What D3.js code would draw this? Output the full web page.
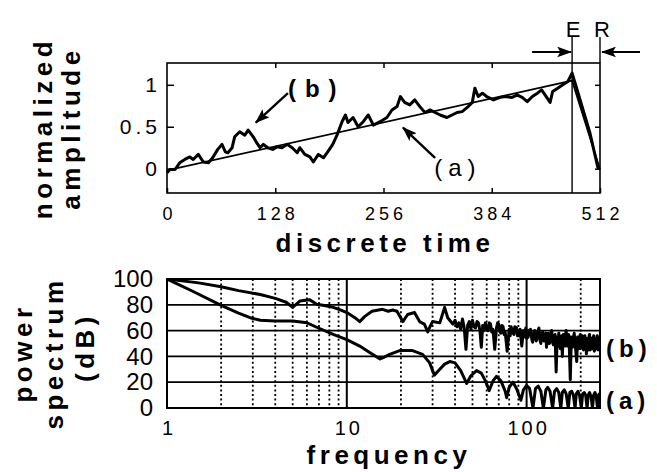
<!DOCTYPE html>
<html>
<head>
<meta charset="utf-8">
<script src="https://cdn.jsdelivr.net/npm/d3@7"></script>
<style>
  body { margin: 0; background: #fff; }
  svg { display: block; font-family: "Liberation Sans", Arial, Helvetica, sans-serif; }
  .title { font-weight: bold; font-size: 26px; letter-spacing: 4.5px; fill: #000; }
  .note { font-size: 24px; fill: #000; }
</style>
</head>
<body>
<div id="vis"></div>
<script>
const timeTicks = [0, 128, 256, 384, 512];
const ampTicks = [0, 0.5, 1];
const freqTicks = [1, 10, 100];
const dbTicks = [0, 20, 40, 60, 80, 100];
const dbGrid = [20, 40, 60, 80];
const minorFreqs = [2, 3, 4, 5, 6, 7, 8, 9, 20, 30, 40, 50, 60, 70, 80, 90, 200];
const decadeFreqs = [10, 100];
const edgeTimes = [479, 512]; // E and R markers

// (a) linear ramp, (b) noisy signal : [time, amplitude]
const rampA = [[0, -0.02], [479, 1.05], [512, -0.01]];
const signalB = [[0,-0.05],[3.5,-0.01],[9.5,-0.01],[15,0.07],[21,0.11],[27,0.14],[31,0.11],[37,0.17],[43,0.08],[49,0.07],
  [54,0.13],[60,0.23],[65,0.29],[69,0.20],[72,0.19],[77,0.25],[80,0.38],[86,0.44],[92,0.40],[96,0.46],
  [102,0.38],[106,0.31],[110,0.25],[114,0.29],[119,0.25],[125,0.23],[130,0.26],[136,0.25],[142,0.29],[148,0.25],
  [154,0.19],[157,0.25],[163,0.17],[169,0.14],[173,0.08],[179,0.17],[185,0.13],[190,0.20],[196,0.29],[201,0.40],
  [207,0.56],[211,0.64],[214,0.55],[220,0.61],[226,0.50],[232,0.56],[238,0.64],[244,0.52],[252,0.56],[260,0.61],
  [266,0.70],[272,0.74],[276,0.86],[281,0.79],[287,0.76],[293,0.82],[299,0.74],[305,0.67],[311,0.70],[317,0.67],
  [323,0.64],[331,0.61],[337,0.64],[343,0.67],[349,0.68],[355,0.73],[361,0.79],[364,0.96],[368,0.86],[373,0.90],
  [378,0.86],[386,0.82],[394,0.85],[400,0.86],[408,0.85],[414,0.88],[420,0.85],[426,0.80],[432,0.86],[438,0.90],
  [443,0.94],[449,0.85],[453,0.79],[456,0.92],[462,0.96],[468,1.00],[474,1.04],[479,1.14],[485,0.94],[492,0.70],
  [500,0.43],[510,-0.01]];

// power spectra : [frequency, dB]
const spectrumA = [[1,100],[1.39,90.5],[2,79.5],[2.5,73.5],[2.9,70],[3.3,68],[4,67.5],[5,67.5],[6,66],[6.8,62.6],
  [8.4,57],[10,53],[11.8,48],[13.4,43],[15.3,38],[16.2,39.5],[17.3,41.6],[19.7,44.5],[23.2,44.5],[26.4,41.6],
  [28.9,35],[30.7,25.5],[32.9,30],[35,34],[37.4,36],[40,35],[43,29],[46.4,19],[49,25],[52.7,29],
  [56,27],[59,21],[62,13.5],[65,21],[68,24.5],[72,21],[76,13],[77.5,8],[80,16],[84,20],
  [88,15],[93,6],[96,14],[100,17.5],[104,15],[108.5,0],[112,15],[116,17],[120,13],[124,0],
  [128,14],[131,16],[135,13],[139.5,0],[143,13],[147,15],[151,12],[155,0],[158,12],[162,14],
  [166,11],[170.5,0],[174,12],[178,13],[182,10],[186,0],[189,11],[193,13],[197,10],[201.5,0],
  [205,11],[209,12],[213,10],[217,0],[220,10],[224,12],[228,9],[232.5,0],[236,10],[240,12],
  [244,9],[248,0],[251,10],[254,11],[256,10]];
const spectrumB = [[1,100],[1.5,97],[2,94],[2.5,91],[3.3,88],[4,85],[4.6,82],[5,78],[5.5,83],[6.2,84],
  [6.8,80.5],[7.5,79.5],[8.4,78],[9.2,76],[10,74],[11.1,70],[11.8,67],[12.6,71],[13.8,75],[15.8,76.5],
  [17,75],[18,76],[19,75],[20.5,67],[21.8,72.5],[23.8,74],[25.4,67],[27,65],[28.2,59],[29,63],
  [30,67],[32.9,66],[35,78],[36.4,70],[38.9,65],[40,68],[41,63],[42,66],[43,61],[44,69],[45,62],[46,45.5],
  [47,64],[48,67],[49,61],[50,68],[51,63],[52,62],[53,67],[54,66],[55,60],[56,47],[57,64],[58,60],[59,66],[60,61],
  [61,60],[62,66],[63,65],[64,59],[65,61],[66.5,45.5],[68,62],[69,66],[70,65],[71,59],[72,58],[73,64],[74,63],
  [75,57],[76,59],[78,44],[80,61],[81,56],[82,63],[84,58],[85,57],[86,63],[88,62],[89,56],[91,56],[92,61],
  [94,48],[96,60],[97,55],[99,62],[100,54],[102,55],[103,60],[105,61],[107,53],[108,51],[110,59],[111,60],
  [113,52],[114,53],[116,60],[117,62],[119,52],[120,50],[122,58],[123,59],[125,52],[126,54],[128,58],[129,47],
  [131,56],[132,58],[134,50],[135,52],[137,59],[138,60],[140,50],[141,49],[143,56],[144,57],
  [146,28],[148,55],[150,48],[151,58],[153,50],[154,46],[156,55],[157,56],[158,40],[160,57],[162,50],[163,48],
  [165,58],[166,60],[168,48],[169,50],[171,57],[172,56],[175,22],[177,50],[178,55],[180,47],[181,48],[183,56],
  [184,58],[186,49],[187,47],[190,36],[192,55],[193,54],[195,46],[196,49],[198,56],[199,57],[201,47],[202,48],
  [204,56],[205,55],[207,45],[208,46],[210,55],[211,56],[213,47],[214,49],[215,42],[217,53],[218,54],[220,45],
  [221,47],[223,56],[224,57],[226,45],[227,46],[229,54],[230,53],[232,46],[233,48],[235,55],[236,56],[238,44],
  [239,45],[241,53],[242,54],[244,46],[245,47],[247,56],[248,55],[250,45],[251,46],[253,53],[254,52],[256,48]];

const width = 657, height = 472;
const plotLeft = 167, plotRight = 600;
const topY0 = 63, topY1 = 193;
const botY0 = 279, botY1 = 408;

const svg = d3.select("div#vis").append("svg").attr("width", width).attr("height", height);
svg.append("rect").attr("width", width).attr("height", height).attr("fill", "#fff");

const defs = svg.append("defs");
defs.append("marker").attr("id", "head")
  .attr("viewBox", "0 0 14 10").attr("refX", 13).attr("refY", 5)
  .attr("markerWidth", 15).attr("markerHeight", 11).attr("markerUnits", "userSpaceOnUse")
  .attr("orient", "auto")
  .append("path").attr("d", "M0,0 L14,5 L0,10 L3,5 Z").attr("fill", "#000");
defs.append("clipPath").attr("id", "clipBot")
  .append("rect").attr("x", plotLeft).attr("y", botY0).attr("width", plotRight - plotLeft).attr("height", botY1 - botY0);

const styleAxis = (g, size, spacing) => {
  g.select(".domain").remove();
  g.selectAll(".tick line").attr("stroke", "#000").attr("stroke-width", 1.5);
  g.selectAll(".tick text").attr("fill", "#000").style("font-size", size + "px").style("letter-spacing", spacing + "px");
};

// ---------- top panel ----------
const tx = d3.scaleLinear().domain([0, 512]).range([plotLeft, plotRight]);
const ty = d3.scaleLinear().domain([-0.29, 1.26]).range([topY1, topY0]);

svg.append("g").attr("transform", `translate(0,${topY1})`)
  .call(d3.axisBottom(tx).tickValues(timeTicks).tickSize(-5).tickPadding(14))
  .call(g => styleAxis(g, 18, 4))
  .call(g => g.selectAll(".tick text").attr("dx", "2px"));
svg.append("g").attr("transform", `translate(0,${topY0})`)
  .call(d3.axisTop(tx).tickValues(timeTicks.slice(1, 4)).tickSize(-5).tickFormat(""))
  .call(g => styleAxis(g, 18, 0));
svg.append("g").attr("transform", `translate(${plotLeft},0)`)
  .call(d3.axisLeft(ty).tickValues(ampTicks).tickSize(-7).tickPadding(6).tickFormat(d3.format("")))
  .call(g => styleAxis(g, 21, 4));
svg.append("g").attr("transform", `translate(${plotRight},0)`)
  .call(d3.axisRight(ty).tickValues(ampTicks).tickSize(-5).tickFormat(""))
  .call(g => styleAxis(g, 18, 0));

svg.append("rect").attr("x", plotLeft).attr("y", topY0)
  .attr("width", plotRight - plotLeft).attr("height", topY1 - topY0)
  .attr("fill", "none").attr("stroke", "#000").attr("stroke-width", 1.6);

// E / R boundaries
const markTop = 37, arrowY = 52;
svg.selectAll("line.edge").data(edgeTimes).enter().append("line")
  .attr("class", "edge")
  .attr("x1", d => tx(d)).attr("x2", d => tx(d))
  .attr("y1", markTop).attr("y2", (d, i) => i === 0 ? topY1 : topY0)
  .attr("stroke", "#000").attr("stroke-width", 1.4);
svg.append("line").attr("x1", tx(edgeTimes[0]) - 40).attr("x2", tx(edgeTimes[0]) - 1)
  .attr("y1", arrowY).attr("y2", arrowY).attr("stroke", "#000").attr("stroke-width", 2).attr("marker-end", "url(#head)");
svg.append("line").attr("x1", tx(edgeTimes[1]) + 40).attr("x2", tx(edgeTimes[1]) + 2)
  .attr("y1", arrowY).attr("y2", arrowY).attr("stroke", "#000").attr("stroke-width", 2).attr("marker-end", "url(#head)");
svg.selectAll("text.edge").data(["E", "R"]).enter().append("text")
  .attr("class", "note edge")
  .attr("x", (d, i) => tx(edgeTimes[i]) + (i === 0 ? 1 : 2))
  .attr("y", markTop)
  .attr("text-anchor", "middle")
  .style("font-size", "22px")
  .text(d => d);

const ampLine = d3.line().x(d => tx(d[0])).y(d => ty(d[1]));
svg.append("path").datum(rampA).attr("d", ampLine)
  .attr("fill", "none").attr("stroke", "#000").attr("stroke-width", 1.8);
svg.append("path").datum(signalB).attr("d", ampLine)
  .attr("fill", "none").attr("stroke", "#000").attr("stroke-width", 3).attr("stroke-linejoin", "round");

// annotations (a), (b)
svg.append("line").attr("x1", tx(143)).attr("y1", ty(0.9)).attr("x2", tx(105)).attr("y2", ty(0.55))
  .attr("stroke", "#000").attr("stroke-width", 2.4).attr("marker-end", "url(#head)");
svg.append("text").attr("class", "note").attr("x", tx(143)).attr("y", ty(0.85))
  .style("letter-spacing", "9px").style("font-weight", "bold").text("(b)");
svg.append("line").attr("x1", tx(317)).attr("y1", ty(0.13)).attr("x2", tx(279)).attr("y2", ty(0.49))
  .attr("stroke", "#000").attr("stroke-width", 2.4).attr("marker-end", "url(#head)");
svg.append("text").attr("class", "note").attr("x", tx(316)).attr("y", ty(-0.09))
  .style("letter-spacing", "6px").text("(a)");

// titles
svg.append("text").attr("class", "title").attr("transform", "translate(52,128) rotate(-90)")
  .attr("text-anchor", "middle").text("normalized");
svg.append("text").attr("class", "title").attr("transform", "translate(80,128) rotate(-90)")
  .attr("text-anchor", "middle").text("amplitude");
svg.append("text").attr("class", "title").attr("x", 385).attr("y", 252)
  .attr("text-anchor", "middle").text("discrete time");

// ---------- bottom panel ----------
const fx = d3.scaleLog().domain([1, 256]).range([plotLeft, plotRight]);
const fy = d3.scaleLinear().domain([0, 100]).range([botY1, botY0]);

svg.selectAll("line.hgrid").data(dbGrid).enter().append("line")
  .attr("class", "hgrid")
  .attr("x1", plotLeft).attr("x2", plotRight)
  .attr("y1", d => fy(d)).attr("y2", d => fy(d))
  .attr("stroke", "#000").attr("stroke-width", 1.7);
svg.selectAll("line.vminor").data(minorFreqs).enter().append("line")
  .attr("class", "vminor")
  .attr("x1", d => fx(d)).attr("x2", d => fx(d))
  .attr("y1", botY0).attr("y2", botY1)
  .attr("stroke", "#000").attr("stroke-width", 1.8).attr("stroke-dasharray", "2,2.6");
svg.selectAll("line.vmajor").data(decadeFreqs).enter().append("line")
  .attr("class", "vmajor")
  .attr("x1", d => fx(d)).attr("x2", d => fx(d))
  .attr("y1", botY0).attr("y2", botY1)
  .attr("stroke", "#000").attr("stroke-width", 2);

svg.append("g").attr("transform", `translate(${plotLeft},0)`)
  .call(d3.axisLeft(fy).tickValues(dbTicks).tickSize(0).tickPadding(14))
  .call(g => styleAxis(g, 24, 0));
svg.append("g").attr("transform", `translate(0,${botY1})`)
  .call(d3.axisBottom(fx).tickValues(freqTicks).tickSize(0).tickPadding(13).tickFormat(d3.format("d")))
  .call(g => styleAxis(g, 20, 3))
  .call(g => g.selectAll(".tick text").attr("dx", "1.5px"));

const dbLine = d3.line().x(d => fx(d[0])).y(d => fy(d[1]));
const curves = svg.append("g").attr("clip-path", "url(#clipBot)");
curves.append("path").datum(spectrumA).attr("d", dbLine)
  .attr("fill", "none").attr("stroke", "#000").attr("stroke-width", 3).attr("stroke-linejoin", "round");
curves.append("path").datum(spectrumB).attr("d", dbLine)
  .attr("fill", "none").attr("stroke", "#000").attr("stroke-width", 3).attr("stroke-linejoin", "round");

svg.append("rect").attr("x", plotLeft).attr("y", botY0)
  .attr("width", plotRight - plotLeft).attr("height", botY1 - botY0)
  .attr("fill", "none").attr("stroke", "#000").attr("stroke-width", 2);

svg.selectAll("text.legend").data([["(b)", 46.5], ["(a)", 6]]).enter().append("text")
  .attr("class", "note legend")
  .attr("x", plotRight + 6).attr("y", d => fy(d[1]))
  .attr("dominant-baseline", "central")
  .style("font-size", "24px").style("letter-spacing", "5px").style("font-weight", "bold")
  .text(d => d[0]);

svg.append("text").attr("class", "title").attr("transform", "translate(32,353) rotate(-90)")
  .attr("text-anchor", "middle").text("power");
svg.append("text").attr("class", "title").attr("transform", "translate(63,353) rotate(-90)")
  .attr("text-anchor", "middle").text("spectrum");
svg.append("text").attr("class", "title").attr("transform", "translate(94,347) rotate(-90)")
  .attr("text-anchor", "middle").text("(dB)");
svg.append("text").attr("class", "title").attr("x", 389).attr("y", 464)
  .attr("text-anchor", "middle").text("frequency");
</script>
</body>
</html>
